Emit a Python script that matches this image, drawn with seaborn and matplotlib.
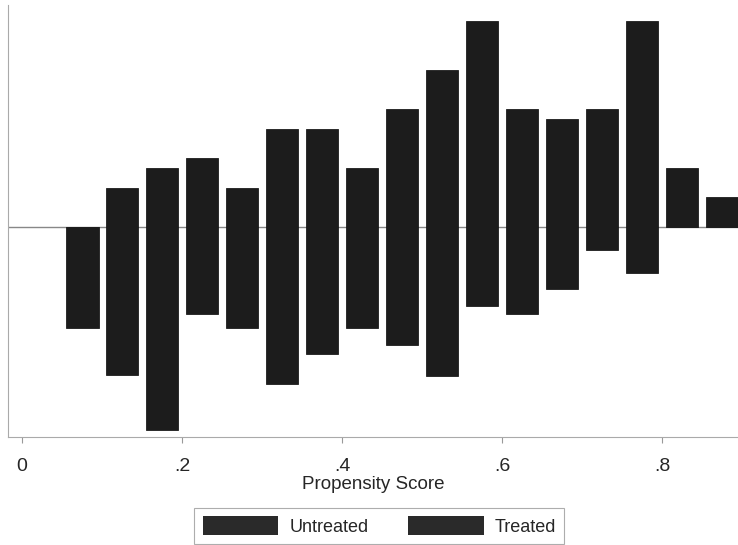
import numpy as np
import pandas as pd
import seaborn as sns
import matplotlib
matplotlib.use('Agg')
import matplotlib.pyplot as plt
from matplotlib.patches import Patch

# bin midpoints of the propensity score histogram
bin_mid = [0.075, 0.125, 0.175, 0.225, 0.275, 0.325, 0.375, 0.425, 0.475,
           0.525, 0.575, 0.625, 0.675, 0.725, 0.775, 0.825, 0.875]
# heights (treated drawn up, untreated drawn down)
treated = [0, 4, 6, 7, 4, 10, 10, 6, 12, 16, 21, 12, 11, 12, 21, 6, 3]
untreated = [10.3, 15.1, 20.7, 8.9, 10.3, 16, 12.9, 10.3, 12, 15.2, 8.1,
             8.9, 6.3, 2.4, 4.7, 0, 0]
xticks = [0, 0.2, 0.4, 0.6, 0.8]
xtick_labels = ['0', '.2', '.4', '.6', '.8']

df = pd.DataFrame({'ps': bin_mid, 'treated': treated,
                   'untreated': [-v for v in untreated]})

sns.set_style('white')
plt.rcParams['font.family'] = ['Liberation Sans', 'DejaVu Sans']

bar_col = '#1c1c1c'

fig = plt.figure(figsize=(7.38, 5.45), dpi=100)
ax = fig.add_axes([0.011, 0.198, 0.989, 0.793])

ax.axhline(0, color='#888888', lw=1, zorder=0)

# treated above the line, untreated mirrored below
sns.barplot(data=df, x='ps', y='treated', native_scale=True, width=0.82,
            color=bar_col, saturation=1, edgecolor=bar_col, linewidth=0.6,
            ax=ax, zorder=2)
sns.barplot(data=df, x='ps', y='untreated', native_scale=True, width=0.82,
            color=bar_col, saturation=1, edgecolor=bar_col, linewidth=0.6,
            ax=ax, zorder=2)

ax.set_xlim(-0.0175, 0.895)
ax.set_ylim(-21.4, 22.6)
ax.set_xticks(xticks)
ax.set_xticklabels(xtick_labels, fontsize=14)
ax.set_yticks([])
ax.set_ylabel('')
ax.set_xlabel('Propensity Score', fontsize=13.5, labelpad=1)
ax.tick_params(axis='x', length=4, color='#999999', pad=11, bottom=True)

for side in ['top', 'right']:
    ax.spines[side].set_visible(False)
for side in ['left', 'bottom']:
    ax.spines[side].set_color('#aaaaaa')
    ax.spines[side].set_linestyle((0, (2, 1)))
    ax.spines[side].set_linewidth(0.8)

handles = [Patch(facecolor='#2a2a2a', edgecolor='none', label='Untreated'),
           Patch(facecolor='#2a2a2a', edgecolor='none', label='Treated')]
leg = fig.legend(handles=handles, loc='upper center', ncol=2,
                 bbox_to_anchor=(0.514, 1 - 499 / 545), fontsize=13,
                 handlelength=4.2, handleheight=1.2, handletextpad=0.6,
                 columnspacing=2.2, frameon=True, fancybox=False,
                 borderpad=0.45)
leg.get_frame().set_edgecolor('#999999')
leg.get_frame().set_linewidth(0.8)

fig.savefig('out.png', dpi=100)
